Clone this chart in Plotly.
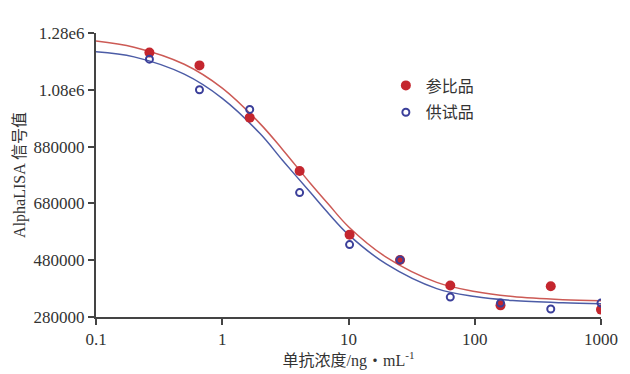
import plotly.graph_objects as go

# measured points
conc = [0.265, 0.66, 1.65, 4.1, 10.2, 25.6, 64, 160, 400, 1000]
ref_vals = [1211000, 1166000, 982000, 794000, 570000, 481000, 391000, 321000, 388000, 306000]
test_vals = [1188000, 1080000, 1011000, 718000, 535000, 481000, 350000, 329000, 308000, 329000]

# fitted curves
curve_x = [0.1, 0.2, 0.5, 1, 2, 3, 5, 7, 10, 20, 50, 100, 200, 500, 1000]
ref_curve = [1252000, 1230000, 1170000, 1086000, 960000, 870000, 750000, 675000, 598000, 490000, 402000, 370000, 352000, 341000, 337000]
test_curve = [1214000, 1196000, 1135000, 1050000, 925000, 832000, 718000, 643000, 570000, 466000, 380000, 352000, 338000, 330000, 327000]

series_names = ["参比品", "供试品"]
y_ticks = [280000, 480000, 680000, 880000, 1080000, 1280000]
y_tick_text = ["280000", "480000", "680000", "880000", "1.08e6", "1.28e6"]
x_ticks = [0.1, 1, 10, 100, 1000]
x_tick_text = ["0.1", "1", "10", "100", "1000"]

RED = "#c4262e"
BLUE = "#3b3f9a"
FONT = "Liberation Serif, Noto Sans CJK SC, serif"

fig = go.Figure()
fig.add_trace(go.Scatter(x=curve_x, y=ref_curve, mode="lines", line=dict(color="#cc5a55", width=1.5, shape="spline"),
                         showlegend=False, hoverinfo="skip"))
fig.add_trace(go.Scatter(x=curve_x, y=test_curve, mode="lines", line=dict(color="#4c5ca6", width=1.5, shape="spline"),
                         showlegend=False, hoverinfo="skip"))
fig.add_trace(go.Scatter(x=conc, y=ref_vals, mode="markers", name=series_names[0], legendgroup="a",
                         marker=dict(color=RED, size=10, line=dict(width=0))))
fig.add_trace(go.Scatter(x=conc, y=test_vals, mode="markers", name=series_names[1], legendgroup="b",
                         marker=dict(color="rgba(0,0,0,0)", size=7, line=dict(color=BLUE, width=2))))

# page has an 8px body margin, so the figure is 8px smaller on each side
fig.update_layout(
    width=622, height=366,
    margin=dict(l=88, r=29, t=25, b=57),
    paper_bgcolor="white", plot_bgcolor="white",
    font=dict(family=FONT, size=17, color="#333333"),
    legend=dict(x=0.574, y=0.875, xanchor="left", yanchor="top", bgcolor="rgba(0,0,0,0)",
                font=dict(size=16, color="#333333"), tracegroupgap=3, traceorder="grouped",
                itemwidth=30),
    xaxis=dict(type="log", range=[-1, 3], tickvals=x_ticks, ticktext=x_tick_text, automargin=False,
               showgrid=False, zeroline=False, showline=True, linecolor="#444444", linewidth=2,
               ticks="outside", ticklen=6, tickwidth=2, tickcolor="#444444",
               title=dict(text="单抗浓度/ng・mL<sup>-1</sup>", standoff=0, font=dict(size=16))),
    yaxis=dict(range=[280000, 1280000], tickvals=y_ticks, ticktext=y_tick_text, automargin=False,
               showgrid=False, zeroline=False, showline=True, linecolor="#444444", linewidth=2,
               ticks="outside", ticklen=6, tickwidth=2, tickcolor="#444444",
               title=dict(text="AlphaLISA 信号值", standoff=4, font=dict(size=16))),
)

fig.write_html("out.html")
